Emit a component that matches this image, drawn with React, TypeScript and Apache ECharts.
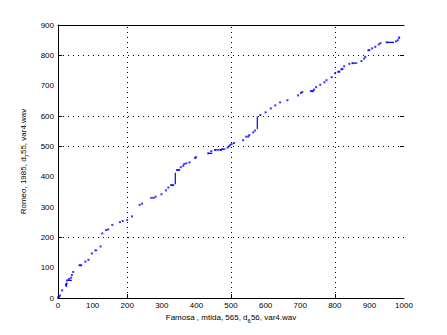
import React, { useEffect, useRef } from "react";
import * as echarts from "echarts";

const xTitle = "Famosa , mtida, 565, d";
const xTitleSub = "6";
const xTitleEnd = "56, var4.wav";
const yTitle = "Romeo, 1985, d";
const yTitleSub = "7";
const yTitleEnd = "55, var4.wav";

const xGridValues = [200, 500, 800];
const yGridValues = [200, 500, 600, 800];
const yRightTickValues = [500, 600, 800];

// Warping path points (x: Famosa frame, y: Romeo frame)
const pathX = [0, 3, 6, 12, 23, 25, 26, 32, 38, 40, 44, 62, 67, 79, 88, 98, 108, 123, 128, 139, 145, 157, 179, 187, 200, 214, 236, 243, 282, 299, 312, 319, 327, 333, 344, 350, 355, 362, 365, 371, 380, 396, 399, 434, 443, 454, 471, 475, 490, 494, 498, 502, 509, 535, 544, 550, 553, 564, 569, 585, 600, 615, 628, 642, 663, 694, 702, 706, 731, 737, 740, 746, 758, 770, 776, 791, 801, 810, 813, 819, 822, 827, 842, 851, 877, 885, 888, 897, 900, 908, 917, 927, 932, 950, 977, 982, 986];
const pathY = [2, 4, 8, 25, 43, 47, 58, 63, 67, 76, 86, 108, 108, 120, 126, 147, 157, 170, 213, 224, 226, 241, 250, 254, 257, 269, 307, 311, 334, 342, 355, 364, 372, 372, 422, 422, 431, 436, 442, 444, 447, 462, 464, 477, 484, 488, 488, 491, 496, 500, 504, 508, 511, 520, 532, 532, 537, 546, 552, 603, 612, 625, 635, 645, 652, 668, 676, 679, 682, 682, 687, 695, 703, 711, 718, 728, 741, 746, 746, 754, 755, 764, 772, 774, 781, 789, 795, 817, 817, 823, 828, 836, 840, 843, 846, 850, 859];

// Dense runs of the path: [x1, y1] -> [x2, y2]
const runStartX = [24, 29, 62, 110, 266, 327, 339, 344, 434, 454, 475, 576, 731, 810, 851, 950, 986];
const runStartY = [36, 58, 108, 157, 330, 372, 375, 422, 477, 488, 491, 557, 682, 746, 774, 843, 854];
const runEndX = [24, 40, 68, 113, 280, 333, 339, 350, 446, 471, 484, 576, 737, 813, 865, 971, 986];
const runEndY = [50, 58, 108, 157, 330, 372, 413, 422, 477, 488, 491, 598, 682, 746, 774, 843, 859];

const FONT = "Liberation Sans";

export default function App() {
  const ref = useRef<HTMLDivElement>(null);
  useEffect(() => {
    if (!ref.current) return;
    const chart = echarts.init(ref.current, null, { renderer: "svg" });
    const points = pathX.map((x, i) => [x, pathY[i]]);
    const runSeries = runStartX.map((x, i) => ({
      type: "line" as const,
      data: [
        [x, runStartY[i]],
        [runEndX[i], runEndY[i]],
      ],
      symbol: "none",
      lineStyle: { color: "#0000ff", width: 1.2 },
      silent: true,
      z: 3,
    }));
    const gridLines = [
      ...xGridValues.map((v) => ({ xAxis: v })),
      ...yGridValues.map((v) => ({ yAxis: v })),
    ];
    const tickLines: any[] = [
      ...xGridValues.map((v) => [{ coord: [v, 0] }, { coord: [v, 13] }]),
      ...yGridValues.map((v) => [{ coord: [0, v] }, { coord: [12, v] }]),
      ...yRightTickValues.map((v) => [{ coord: [988, v] }, { coord: [1000, v] }]),
    ];
    const plain = (v: number) => String(v);
    chart.setOption({
      animation: false,
      backgroundColor: "#ffffff",
      grid: { left: 58, top: 25, right: 43, bottom: 37 },
      xAxis: [
        {
          type: "value",
          min: 0,
          max: 1000,
          interval: 100,
          position: "bottom",
          axisLine: { show: true, onZero: false, lineStyle: { color: "#000", width: 1 } },
          axisTick: { show: false },
          axisLabel: { color: "#000", fontSize: 8, fontFamily: FONT, margin: 3, formatter: plain },
          splitLine: { show: false },
          name: "{a|" + xTitle + "}{s|" + xTitleSub + "}{a|" + xTitleEnd + "}",
          nameLocation: "middle",
          nameGap: 13,
          nameTextStyle: {
            rich: {
              a: { fontSize: 8, fontFamily: FONT, color: "#000" },
              s: { fontSize: 6, fontFamily: FONT, color: "#000", padding: [6, 0, 0, 0] },
            },
          },
        },
        {
          type: "value",
          min: 0,
          max: 1000,
          interval: 100,
          position: "top",
          axisLine: { show: true, onZero: false, lineStyle: { color: "#000", width: 1 } },
          axisTick: { show: false },
          axisLabel: { show: false },
          splitLine: { show: false },
        },
      ],
      yAxis: [
        {
          type: "value",
          min: 0,
          max: 900,
          interval: 100,
          position: "left",
          axisLine: { show: true, onZero: false, lineStyle: { color: "#000", width: 1 } },
          axisTick: { show: false },
          axisLabel: { color: "#000", fontSize: 8, fontFamily: FONT, margin: 4, formatter: plain },
          splitLine: { show: false },
          name: "{a|" + yTitle + "}{s|" + yTitleSub + "}{a|" + yTitleEnd + "}",
          nameLocation: "middle",
          nameGap: 21,
          nameRotate: 90,
          nameTextStyle: {
            rich: {
              a: { fontSize: 8, fontFamily: FONT, color: "#000" },
              s: { fontSize: 6, fontFamily: FONT, color: "#000", padding: [6, 0, 0, 0] },
            },
          },
        },
      ],
      series: [
        {
          type: "scatter",
          data: points,
          symbol: "rect",
          symbolSize: 2,
          itemStyle: { color: "#0000ff" },
          silent: true,
          z: 3,
          markLine: {
            silent: true,
            symbol: "none",
            label: { show: false },
            lineStyle: { color: "#000", type: [1, 4], width: 1 },
            data: gridLines,
            z: 1,
          },
        },
        {
          type: "scatter",
          data: [],
          silent: true,
          markLine: {
            silent: true,
            symbol: "none",
            label: { show: false },
            lineStyle: { color: "#000", type: "solid", width: 1 },
            data: tickLines,
          },
        },
        ...runSeries,
      ],
    });
    return () => chart.dispose();
  }, []);
  return <div ref={ref} style={{ width: 447, height: 335, margin: -8 }} />;
}
